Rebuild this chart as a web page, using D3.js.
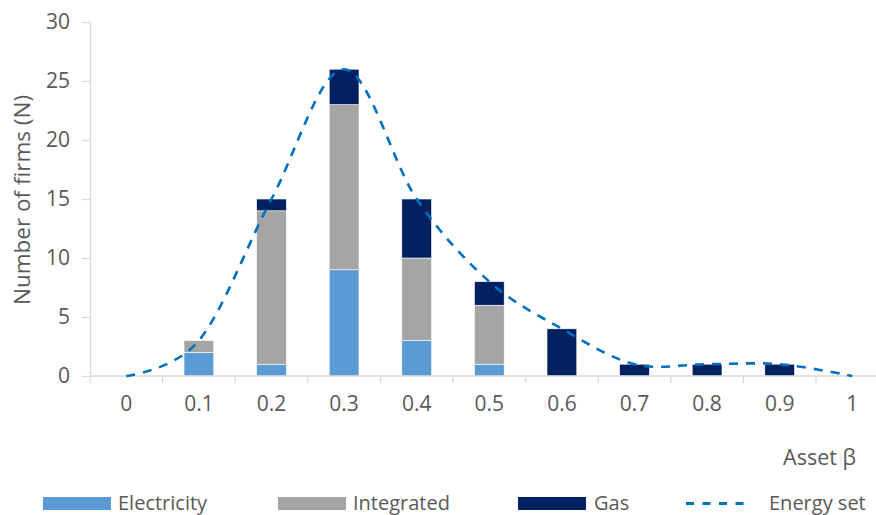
<!DOCTYPE html>
<html>
<head>
<meta charset="utf-8">
<script src="https://cdn.jsdelivr.net/npm/d3@7"></script>
<style>
  html, body { margin: 0; padding: 0; background: #fff; }
  svg { display: block; }
</style>
</head>
<body>
<div id="chart"></div>
<script>
const categories = ["0", "0.1", "0.2", "0.3", "0.4", "0.5", "0.6", "0.7", "0.8", "0.9", "1"];
const electricity = [0, 2, 1, 9, 3, 1, 0, 0, 0, 0, 0];
const integrated  = [0, 1, 13, 14, 7, 5, 0, 0, 0, 0, 0];
const gas         = [0, 0, 1, 3, 5, 2, 4, 1, 1, 1, 0];
const energySet   = [0, 3, 15, 26, 15, 8, 4, 1, 1, 1, 0];
const yTicks = [0, 5, 10, 15, 20, 25, 30];
const seriesNames = ["Electricity", "Integrated", "Gas"];
const lineName = "Energy set";

const W = 876, H = 515;
const colors = { Electricity: "#5B9BD5", Integrated: "#A5A5A5", Gas: "#002060" };
const lineColor = "#0070C0";
const axisColor = "#D9D9D9";
const textColor = "#595959";
const font = "'Open Sans', sans-serif";

const svg = d3.select("#chart").append("svg").attr("width", W).attr("height", H);

const x = d3.scaleBand().domain(categories).range([90, 90 + 11 * 72.6]).padding(0);
const y = d3.scaleLinear().domain([0, 30]).range([376, 22]);

const rows = categories.map((c, i) => ({ cat: c, Electricity: electricity[i], Integrated: integrated[i], Gas: gas[i] }));
const stack = d3.stack().keys(seriesNames)(rows);

const barW = x.bandwidth() * 0.41;

// bars
svg.append("g").selectAll("g").data(stack).join("g")
  .attr("fill", d => colors[d.key])
  .selectAll("rect").data(d => d).join("rect")
  .attr("x", d => x(d.data.cat) + (x.bandwidth() - barW) / 2)
  .attr("width", barW)
  .attr("y", d => y(d[1]))
  .attr("height", d => Math.max(0, y(d[0]) - y(d[1])))
  .attr("stroke", "#ffffff")
  .attr("stroke-width", 0.6)
  .attr("display", d => d[1] - d[0] > 0 ? null : "none");

// y axis
const yAxis = d3.axisLeft(y).tickValues(yTicks).tickSize(8).tickPadding(12).tickSizeOuter(0);
const gy = svg.append("g").attr("transform", "translate(90,0)").call(yAxis);
gy.select(".domain").attr("stroke", axisColor).attr("stroke-width", 1.3);
gy.selectAll(".tick line").attr("stroke", axisColor).attr("stroke-width", 1.3);
gy.selectAll(".tick text").attr("fill", textColor).attr("font-family", font).attr("font-size", 21);

// x axis: line at y=0, tick marks at band boundaries, labels at band centers
const gx = svg.append("g").attr("transform", `translate(0,${y(0)})`);
gx.append("line").attr("x1", 90).attr("x2", W).attr("y1", 0).attr("y2", 0)
  .attr("stroke", axisColor).attr("stroke-width", 1.3);
gx.selectAll("line.tk").data(categories).join("line").attr("class", "tk")
  .attr("x1", d => x(d)).attr("x2", d => x(d)).attr("y1", 0).attr("y2", 7)
  .attr("stroke", axisColor).attr("stroke-width", 1.3);
const xAxis = d3.axisBottom(x).tickSize(0).tickPadding(20);
const gxl = svg.append("g").attr("transform", `translate(0,${y(0)})`).call(xAxis);
gxl.select(".domain").remove();
gxl.selectAll(".tick text").attr("fill", textColor).attr("font-family", font).attr("font-size", 21);

// energy set line
const line = d3.line()
  .x((d, i) => x(categories[i]) + x.bandwidth() / 2)
  .y(d => y(d))
  .curve(d3.curveCardinal.tension(0));
svg.append("path").datum(energySet)
  .attr("d", line)
  .attr("fill", "none")
  .attr("stroke", lineColor)
  .attr("stroke-width", 2.6)
  .attr("stroke-dasharray", "9,8");

// axis titles
svg.append("text")
  .attr("transform", "translate(30,200) rotate(-90)")
  .attr("text-anchor", "middle")
  .attr("fill", textColor)
  .attr("font-family", font)
  .attr("font-size", 22.5)
  .text("Number of firms (N)");

svg.append("text")
  .attr("x", 856).attr("y", 465)
  .attr("text-anchor", "end")
  .attr("fill", textColor)
  .attr("font-family", font)
  .attr("font-size", 21.5)
  .text("Asset β");

// legend
const legendItems = [
  { name: seriesNames[0], type: "rect", x: 43, tx: 118 },
  { name: seriesNames[1], type: "rect", x: 278, tx: 353 },
  { name: seriesNames[2], type: "rect", x: 518, tx: 594 },
  { name: lineName, type: "line", x: 686, tx: 769 }
];
const lg = svg.append("g");
legendItems.forEach(it => {
  if (it.type === "rect") {
    lg.append("rect").attr("x", it.x).attr("y", 497).attr("width", 68).attr("height", 13)
      .attr("fill", colors[it.name]);
  } else {
    lg.append("line").attr("x1", it.x).attr("x2", it.x + 60).attr("y1", 503.5).attr("y2", 503.5)
      .attr("stroke", lineColor).attr("stroke-width", 3).attr("stroke-dasharray", "8,8.5");
  }
  lg.append("text").attr("x", it.tx).attr("y", 510)
    .attr("fill", textColor)
    .attr("font-family", font)
    .attr("font-size", 20)
    .text(it.name);
});
</script>
</body>
</html>
